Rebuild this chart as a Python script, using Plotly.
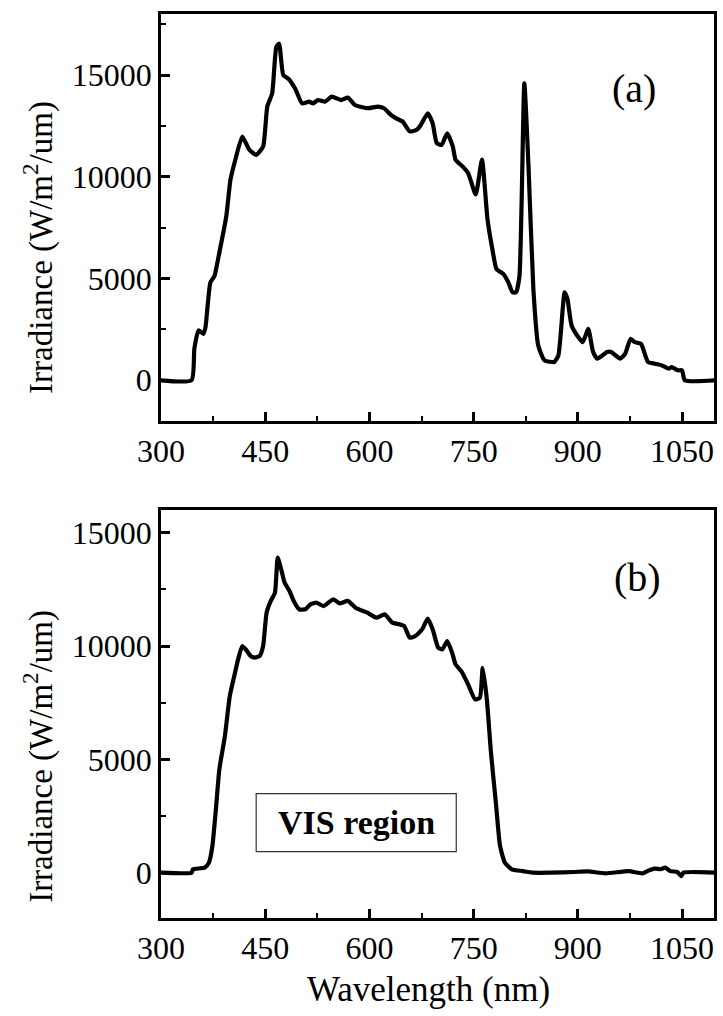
import plotly.graph_objects as go

# ---- data ----
wl_a = [300, 344, 348, 354, 361, 364, 371, 377, 384, 394,
        400, 407, 417, 427, 437, 447, 453, 460, 466, 470,
        476, 483, 493, 503, 513, 519, 526, 536, 546, 559,
        569, 579, 598, 612, 621, 631, 638, 648, 658, 668,
        674, 684, 691, 697, 704, 712, 720, 724, 734, 742,
        753, 762, 770, 777, 783, 793, 800, 806, 811, 816,
        823, 829, 836, 843, 852, 866, 872, 881, 885, 891,
        899, 907, 915, 922, 928, 942, 948, 961, 968, 976,
        982, 991, 1001, 1011, 1021, 1031, 1035, 1044, 1050, 1054,
        1100]
irr_a = [0, 0, 1550, 2450, 2280, 2600, 4800, 5130, 6280, 8070,
         9860, 10840, 11980, 11330, 11080, 11490, 13450, 14100, 16380, 16540,
         15000, 14830, 14340, 13610, 13690, 13610, 13770, 13690, 13940, 13770,
         13890, 13530, 13370, 13450, 13370, 13040, 12880, 12710, 12230, 12310,
         12550, 13120, 12630, 11650, 11570, 12140, 11490, 10840, 10510, 10190,
         9130, 10840, 7900, 6440, 5460, 5220, 4810, 4320, 4320, 5130,
         14590, 10510, 4480, 1710, 980, 900, 1220, 4320, 4000, 2690,
         2200, 1870, 2530, 1390, 1060, 1390, 1390, 1060, 1300, 2040,
         1870, 1790, 900, 815, 730, 570, 650, 490, 490, 0,
         0]

wl_b = [300, 344, 346, 363, 369, 374, 379, 384, 392, 399,
        406, 411, 417, 422, 429, 435, 442, 447, 452, 458,
        464, 468, 473, 478, 485, 491, 499, 508, 515, 524,
        534, 548, 557, 569, 580, 597, 610, 622, 633, 643,
        650, 658, 666, 676, 684, 691, 699, 705, 712, 719,
        724, 732, 742, 752, 759, 763, 769, 775, 782, 788,
        795, 805, 821, 835, 861, 894, 914, 940, 973, 993,
        1000, 1010, 1019, 1026, 1033, 1043, 1049, 1052, 1100]
irr_b = [0, 0, 150, 220, 440, 1180, 2790, 4560, 6030, 7790,
         8750, 9410, 10000, 9850, 9560, 9490, 9560, 10000, 11470, 11990,
         12350, 13900, 13380, 12790, 12430, 11990, 11620, 11620, 11840, 11910,
         11760, 12060, 11880, 11990, 11690, 11470, 11250, 11400, 11030, 10960,
         10880, 10370, 10440, 10740, 11210, 10740, 9930, 9850, 10220, 9710,
         9190, 8900, 8310, 7650, 7720, 9040, 7650, 5290, 3090, 1180,
         440, 150, 70, 0, 0, 30, 60, -30, 70, -30,
         70, 180, 150, 220, 70, 30, -150, 0, 0]

panel_labels = ["(a)", "(b)"]
y_title = "Irradiance (W/m<sup>2</sup>/um)"
x_title = "Wavelength (nm)"
box_text = "VIS region"

FONT = "Times New Roman, Liberation Serif, Times, serif"

fig = go.Figure()
fig.add_trace(go.Scatter(x=wl_a, y=irr_a, mode="lines",
                         line=dict(color="black", width=4.2, shape="spline", smoothing=0.5),
                         xaxis="x", yaxis="y", showlegend=False))
fig.add_trace(go.Scatter(x=wl_b, y=irr_b, mode="lines",
                         line=dict(color="black", width=4.2, shape="spline", smoothing=0.5),
                         xaxis="x2", yaxis="y2", showlegend=False))

tickfont = dict(family=FONT, size=32, color="black")


def xax(anchor):
    return dict(anchor=anchor, range=[300, 1096], tick0=300, dtick=150,
                ticks="inside", ticklen=9, tickwidth=2.5, tickcolor="black",
                showline=True, linewidth=2.5, linecolor="black", mirror=True,
                showgrid=False, zeroline=False, tickfont=tickfont,
                minor=dict(ticks="inside", ticklen=5, tickwidth=2,
                           tickcolor="black", tick0=300, dtick=75,
                           showgrid=False))


def yax(anchor, rng, dom):
    return dict(anchor=anchor, domain=dom, range=rng, tick0=0, dtick=5000,
                tickformat="d",
                ticks="inside", ticklen=9, tickwidth=2.5, tickcolor="black",
                showline=True, linewidth=2.5, linecolor="black", mirror=True,
                showgrid=False, zeroline=False, tickfont=tickfont,
                minor=dict(ticks="inside", ticklen=5, tickwidth=2,
                           tickcolor="black", tick0=0, dtick=2500,
                           showgrid=False))


fig.update_layout(
    width=723, height=1016,
    margin=dict(l=161, r=6, t=14, b=98),
    paper_bgcolor="white", plot_bgcolor="white",
    font=dict(family=FONT, color="black"),
    xaxis=xax("y"),
    yaxis=yax("x", [-2000, 18000], [0.5498, 1.0]),
    xaxis2=xax("y2"),
    yaxis2=yax("x2", [-2000, 16000], [0.0, 0.4513]),
)

yt_font = dict(family=FONT, size=33, color="black")
xt_font = dict(family=FONT, size=35, color="black")
annotations = [
    dict(text=panel_labels[0], xref="paper", yref="paper", x=0.856, y=0.918,
         showarrow=False, font=dict(family=FONT, size=40, color="black"),
         xanchor="center", yanchor="middle"),
    dict(text=panel_labels[1], xref="paper", yref="paper", x=0.862, y=0.377,
         showarrow=False, font=dict(family=FONT, size=40, color="black"),
         xanchor="center", yanchor="middle"),
    dict(text=y_title, xref="paper", yref="paper", x=-0.2212, y=0.742,
         textangle=-90, showarrow=False, font=yt_font,
         xanchor="center", yanchor="middle"),
    dict(text=y_title, xref="paper", yref="paper", x=-0.2212, y=0.179,
         textangle=-90, showarrow=False, font=yt_font,
         xanchor="center", yanchor="middle"),
    dict(text=x_title, xref="paper", yref="paper", x=0.4838, y=-0.0796,
         showarrow=False, font=xt_font, xanchor="center", yanchor="middle"),
    dict(text="<b>" + box_text + "</b>", xref="x2", yref="y2", x=581, y=2210,
         showarrow=False, font=dict(family=FONT, size=34, color="black"),
         xanchor="center", yanchor="middle"),
]
fig.update_layout(annotations=annotations)
fig.add_shape(type="rect", xref="x2", yref="y2", x0=437, x1=725, y0=930, y1=3490,
              line=dict(color="#333333", width=1.2), fillcolor="rgba(0,0,0,0)")

fig.write_html("out.html")
